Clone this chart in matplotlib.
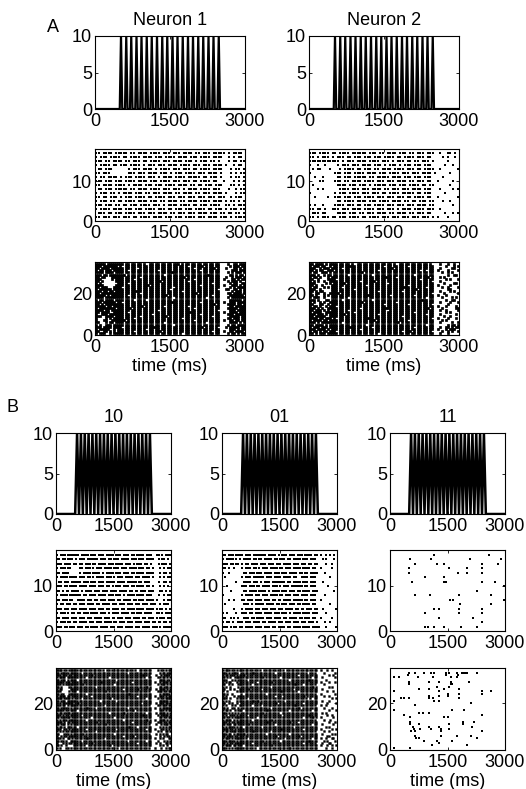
#
# plot.py: stimulus traces and spike rasters for two neurons (A) and three input patterns (B)
#
# import modules -------------------------------------------------------------------------------------------------------
import matplotlib
matplotlib.use('Agg')
from matplotlib import pyplot as plt
# ----------------------------------------------------------------------------------------------------------------------


# data -----------------------------------------------------------------------------------------------------------------
# stimulus: narrow pulses (panel A) and triangle wave (panel B), times in ms
pulse_peak_t = [520, 625, 725, 830, 930, 1035, 1135, 1240, 1345, 1445,
                1550, 1650, 1755, 1860, 1960, 2065, 2165, 2270, 2370, 2475]
pulse_half_width = 25
pulse_height = 10
tri_trough_t = [500, 600, 700, 800, 900, 1000, 1100, 1200, 1300, 1400, 1500,
                1600, 1700, 1800, 1900, 2000, 2100, 2200, 2300, 2400, 2500]
tri_peak_t = [550, 650, 750, 850, 950, 1050, 1150, 1250, 1350, 1450,
              1550, 1650, 1750, 1850, 1950, 2050, 2150, 2250, 2350, 2450]

# rasters, one string per neuron (top row first), '#' = spike in that time bin
MID_BIN = 50     # ms per character, 60 bins
BOT_BIN = 40     # ms per character, 75 bins

a1_mid = [
    "##.####.## ###.##.### #.####.### .###.####. ##.###.### ##.#.####.",
    "#.###.#### .##.####.# ###.###.## ##.####.## #.####.### #..#.#.##.",
    "###.##.### #.##.###.# #.####.### .####.###. #.###.##.# ...#.##.##",
    "#.####.##. ###.####.# .###.###.# ###.####.# ##.###.### #.#..#.##.",
    ".##.###... ...#.###.# ###.#.#### .###.###.# #.####.### #...#.##.#",
    "##.###.... ...###.### .####.###. #.###.#### .###.####. #...#.#.##",
    "#.##.####. #.###.#### .###.#.### #.####.### ##.##.###. #...#.##.#",
    "###.###.## #.####.### #.###.#### .###.###.# #.####.##. .#...#.#.#",
    "##.####.## ##.#.####. ###.###.## ##.####.## .##.###.## #...##.#.#",
    ".##.###.## ###.##.### #.####.### .###.#.### #.####.### ...#..#.##",
    "#.###.##.# .####.###. ##.###.### #.##.####. ##.###.### #.#...#.##",
    "##.##.###. #.###.#### .##.####.# ##.###.### .###.###.# ##..#.###.",
    "#.###.##.# #.####.### #.###.##.# ###.##.### #.####.### #.#.##.#.#",
    "###.###.## .##.###.## ##.###.#.# ###.####.# #.###.#### ..##.#.###",
    "#.####.### #.###.###. ####.###.# #.###.###. ####.##.## #.#.###.##",
    ".###.##.## #.####.### .###.####. ##.###.### .####.###. ##.##.##.#",
    "##.###.### .###.##.## ##.####.## #.###.#### .###.####. ###.#.####",
]

a2_mid = [
    "###.####.# #.####.### ###.###.## .####.###. ##.###.### ..#..##.#.",
    "##.#.###.# .###.##.## #.###.###. ####.##.## ##.###.##. ...#.#..#.",
    "########## ##.#.###.# ###.####.# ##.#.###.# #.##.###.# .....#....",
    "#..#..#... .#.###.### .####.###. #.###.#.## #.###.###. ....#..#..",
    ".#.##...#. ..#.####.# #.###.##.# ###.####.# ##.##.#### ..#......#",
    "#......... ###.###.## ##.####.## #.####.### .###.####. #.....#...",
    "..#..#.... .##.###.## ###.##.### ##.####.## #.###.###. ...#......",
    "....##.... ###.##.### #.####.### .###.####. ##.###.##. .#.....#..",
    ".#........ .####.###. ###.#.#### #.###.###. ####.##.## ......#...",
    "...#.#.... ..####.### .###.####. ##.###.### .####.###. ..#....#.#",
    "#......... #.###.#### .###.###.# #.####.### ##.##.###. ....#.....",
    "..#....#.. ###.###.## #.####.### .###.###.# #.####.##. .#.......#",
    ".......... .##.####.# ###.###.## ##.####.## .##.###.## ...#..#...",
    "#.#..#.... ####.###.# #.###.#### .###.###.# ##.####.## .......#..",
    "##.##.#..# ##.###.### #.####.### .###.#.### #.####.### ..#.......",
    ".###.##... .####.###. ##.###.### #.##.####. ##.###.##. ....#..#.#",
    "##.#.###.# #.###.#### .##.####.# ##.###.### .###.###.# .#...#....",
]

b10_mid = [
    "#.###.#### ##.####.## #.###.#### .###.###.# #.####.### ..##.#.###",
    "##.##.###. #.###.#### ##.###.##. ###.####.# ##.###.### #..#.##.#.",
    "###.####.# #.##.###.# #.####.### .####.###. #.###.##.# ...#.###.#",
    "#.###.##.. ..##.###.# .###.####. ###.###.## ##.###.##. #...#.#.##",
    "##.####... ..#.####.# ###.#.#### .###.###.# #.####.### #...#.##.#",
    "#.####.### #.###.##.# .####.###. #.###.#### .###.####. #...#.#.##",
    ".##.###.## ###.###.## #.###.#### #.####.### ##.##.###. ...#..##.#",
    "###.##.### #.####.### #.###.##.# .###.###.# #.####.##. #...#.#.#.",
    "##.#.##.## ##.#.####. ###.###.## ##.####.## .##.###.## #...##.#.#",
    "#.####.### ###.##.### #.####.### .###.#.### #.####.### ...#..#.##",
    "##.###.##. .####.###. ##.###.### #.##.####. ##.###.### #.#...#.##",
    "#.##.###.# #.###.#### .##.####.# ##.###.### .###.###.# ##..#.###.",
    "###.###.## #.####.### #.###.##.# ###.##.### #.####.### #.#.##.#.#",
    "#.###.#.## .##.###.## ##.###.#.# ###.####.# #.###.#### ..##.#.###",
    "##.####.## #.###.###. ####.###.# #.###.###. ####.##.## #.#.###.##",
    "#.###.##.# #.####.### .###.####. ##.###.### .####.###. ##.##.##.#",
    "###.##.### .###.##.## ##.####.## #.###.#### .###.####. ###.#.####",
]

b01_mid = [
    "##.###.### #.###.#### ###.####.# .###.###.# ##.####.## .#..#.#.#.",
    "#.####.#.# .####.##.# #.####.##. ###.##.### #.###.###. ..#.#...#.",
    "###.##.##. #.##.####. ###.###.## #.####.### .###.##.## ....#..#..",
    "##.#..#... #.###.##.# .###.####. ##.###.### #.####.##. .#.....#..",
    "#..#...... .##.###.## #.####.### .###.####. ##.##.#### ...#......",
    ".#........ #.###.#### ##.###.### #.####.##. .####.###. ......#...",
    ".......#.. .####.###. #.###.#### ###.##.### #.###.###. ..#.......",
    "..#....... ###.###.## .####.###. #.###.#### ##.##.###. .....#....",
    "....#..... .##.####.# ###.#.#### .###.###.# #.####.### ........#.",
    "#......... #.####.### .###.####. ##.###.### .####.###. ...#......",
    "...#..#... ##.###.### #.###.##.# #.####.### ##.##.###. .#........",
    ".#........ .###.#.### ##.####.## .###.###.# #.####.##. ......#...",
    "......#... #.####.### .###.###.# ##.####.## .##.###.## ..#......#",
    "#.#....#.. ###.##.### #.####.### .###.#.### #.####.### ....#.....",
    "##..#.#.#. .###.##.## ##.###.### #.##.####. ##.###.##. .#.....#..",
    "#.##.#..## #.###.#### .##.####.# ##.###.### .###.###.# ...#..#...",
    "###.#.##.# #.####.### #.###.##.# ###.##.### #.####.### #...#....#",
]

a1_bot = [
    "#####.###### ##.##.##. ##.#..##. ##.##.##. ###.#.##. ##.##.##. ##.##. ...#..##.###",
    "###.#######. #..##.##. ##.##.##. ##.##.##. ##.##.#.. ##.###.#. ##.##. ....#.###.##",
    "##.####.#### ##.##.##. .#.##.##. ##.##.##. ##.##.##. #..##.##. ###.#. ..#...##.#.#",
    "#.##.###.### ##.#..##. ##.##.##. #..##.##. ##.##.##. ##.#..##. ##.##. .....###.###",
    "####.####.## ##.##.##. ##.##.##. ##.##.### ##.##.##. ##.##.##. ##.##. ...#.#.###.#",
    "###.##.##### ###.#.##. ##.##.##. ##.#..##. ##.##.##. ##.##.### ##.##. ....##.#.##.",
    "##.##...#### ##.##.##. #..##.##. ##.##.##. ##.###.#. ##.##.##. ##.##. ..#..#.###.#",
    "###.....#.## ##.##.#.. ##.##.##. ##.##.##. ##.##.##. #..##.##. ##.##. .#...##.#.##",
    "##.#......## ##.##.##. ##.##.##. ###.#.##. ##.##.#.. ##.##.##. ##.##. ...#.###.#..",
    "#.#........# ##.#..##. ##.##.##. ##.##.##. ##.##.##. ##.##.##. #..##. ....#.##..##",
    "####......## ##.##.##. ##.###.#. ##.##.##. ##.##.##. ##.#..##. ##.##. .#...###.#.#",
    "##.###...### #..##.##. ##.##.##. ##.##.##. .#.##.##. ##.##.##. ##.##. ....#.#.####",
    "#.######.### ##.##.##. ##.##.##. ##.##.#.. ##.##.##. ##.##.##. ##.#.. ..##..##.#.#",
    "###.##.##.## ##.##.### ##.##.##. ##.##.##. ##.#..##. ##.##.##. ##.##. .....#.###.#",
    "##.######### ##.##.##. #..##.##. ##.##.##. ##.##.##. ###.#.##. ##.##. ...##.####.#",
    "#####.#.#### ##.#..##. ##.##.##. ##.###.#. ##.##.##. ##.##.##. #..##. ....#######.",
    "####.####### ##.##.##. ##.##.##. ##.##.##. .#.##.##. ##.##.#.. ##.##. ...#.#######",
    "#.##.####.## ##.##.#.. ##.#..##. ##.##.##. ##.##.##. ##.##.##. ##.##. ....######.#",
    "###.######.# #..##.##. ##.##.##. ##.##.### ##.##.##. ##.#..##. ##.##. .#..###.####",
    "##.#.####### ##.##.##. ##.##.##. ##.##.##. ##.##.##. ##.##.##. ###.#. ...####.##.#",
    "#####.##.### ##.##.##. ###.#.##. ##.#..##. ##.##.#.. ##.##.##. ##.##. ....##.#####",
    "#.########.# ##.###.#. ##.##.##. ##.##.##. ##.##.##. #..##.##. ##.##. ...#####.###",
    "####.##.#### ##.##.##. ##.##.##. #..##.##. ##.##.##. ##.##.##. ##.#.. ....###.####",
    "##.####..### ##.#..##. ##.##.##. ##.##.##. ##.##.### ##.##.##. ##.##. .#..####.###",
    "#..###.##### ##.##.##. ##.##.#.. ##.##.##. ##.##.##. ##.#..##. ##.##. ...###.#####",
    "###..####.## ##.##.##. #..##.##. ##.###.#. ##.##.##. ##.##.##. #..##. ....#####.##",
    "#....#.#.### ##.##.#.. ##.##.##. ##.##.##. ##.#..##. ##.##.##. ##.##. ...##.###.##",
    "#...##..#### ###.#.##. ##.##.##. ##.##.##. ##.##.##. #..##.##. ##.##. .#..##.##.##",
    "##...#.##.## ##.##.##. ##.##.##. ##.#..##. ##.##.##. ##.##.#.. ##.##. ....####.#.#",
    "#.#..###.### ##.##.##. ##.##.##. ##.##.##. .#.##.##. ##.##.##. ##.##. ...#.##.####",
    "###.####.### #..##.##. ##.##.### ##.##.##. ##.##.##. ##.###.#. ##.#.. ..#.#####.##",
    "#.#####..#.# ##.##.##. ##.#..##. ##.##.##. ##.##.##. ##.##.##. ##.##. ....###.#.##",
    "##..##.#.#.# ##.##.#.. ##.##.##. ###.#.##. ##.##.##. ##.##.##. #..##. .#..##.####.",
    "#.###..#.### ##.##.##. ##.##.##. ##.##.##. ##.#..##. ##.##.##. ##.##. ...#.##.#.##",
]

a2_bot = [
    "##.####.#.## ##.##.##. #..##.##. ##.##.##. ##.#..##. ##.##.##. ##.#.. ..#...#..#..",
    "#.###.##..#. ##.##.### ##.##.##. ##.##.#.. ##.##.##. #..##.##. ##.##. .....#...#.#",
    "###..#.###.# ##.#..##. ##.##.##. ##.##.##. ###.#.##. ##.##.##. ##.##. ..#.....##..",
    "##.#.##..### .#.##.##. ##.##.##. ##.#..##. ##.##.##. ##.##.#.. #..##. .#....#....#",
    "#.##..###.#. ##.##.##. ##.###.#. ##.##.##. ##.##.##. ##.##.##. ##.##. ...#..#.#...",
    "###.#..#.##. ##.##.#.. ##.##.##. #..##.##. ##.##.##. ##.#..##. ##.##. ......#..##.",
    "#.##.#...#.# ##.##.##. ##.##.##. ##.##.### ##.#..##. ##.##.##. ###.#. ..#.#.......",
    "##..#....### #..##.##. ##.##.##. ##.##.##. ##.##.##. ##.##.#.. ##.##. .....#.#...#",
    "#.#.#..#..## ##.##.##. ##.#..##. ###.#.##. ##.##.##. ##.##.##. ##.#.. ..#.........",
    "###.....#.#. ##.###.#. ##.##.##. ##.##.##. .#.##.##. ##.##.##. ##.##. ....#....##.",
    "##.#..#....# ##.##.##. ##.##.#.. ##.##.##. ##.##.##. #..##.##. ##.##. .#.....#....",
    "#.##...#.#.# ##.#..##. ##.##.##. ##.##.##. ##.##.### ##.##.##. #..##. ...#..#....#",
    "###..#.....# ##.##.##. #..##.##. ##.##.##. ##.##.##. ##.###.#. ##.##. ......##....",
    "##.#.##....# ##.##.##. ##.##.##. ##.#..##. ##.##.#.. ##.##.##. ##.##. ..#....#.#..",
    "#..##..#..## ###.#.##. ##.##.##. ##.##.##. ##.##.##. ##.##.##. ##.#.. ....#......#",
    "##.#...#.#.# ##.##.##. ##.##.### ##.##.##. #..##.##. ##.#..##. ##.##. .#...#......",
    "#.###..#...# ##.##.#.. ##.##.##. ##.##.##. ##.##.##. ##.##.##. #..##. ...#....#.#.",
    "###.#...##.# ##.#..##. ##.##.##. #..##.##. ##.##.##. ##.##.### ##.##. .....#..##..",
    "#.#..#.#..## ##.##.##. ##.###.#. ##.##.##. ##.#..##. ##.##.##. ##.##. ..#....#...#",
    "##...##..#.# ##.##.##. ##.##.##. ##.##.#.. ##.##.##. #..##.##. ##.#.. ......#.....",
    "#.##.#..#.## #..##.##. ##.##.##. ##.##.##. ##.##.##. ##.##.##. ##.##. .#...#....#.",
    "###.#.#..### ##.##.##. ##.#..##. ##.##.### ##.##.##. ##.##.##. ###.#. ...#......##",
    "##.###.#.#.# ##.##.#.. ##.##.##. ##.##.##. .#.##.##. ##.##.##. ##.##. ..#..#.....#",
    "#.####..#### ##.##.##. #..##.##. ##.##.##. ##.##.##. ##.#..##. ##.##. .....#.#....",
    "###.###.#.## ##.###.#. ##.##.##. ##.#..##. ##.##.##. ##.##.##. #..##. ..#.......#.",
    "##.#####..## ##.##.##. ##.##.##. ##.##.##. ##.##.#.. ##.##.##. ##.##. ....#..#....",
    "####.##.###. #..##.##. ##.##.### ##.##.##. ##.##.##. ##.##.##. ##.#.. .#....#...#.",
    "#.####.##.## ##.##.##. ##.##.##. ###.#.##. ##.##.##. #..##.##. ##.##. ...#.#......",
    "###.#.###### ##.#..##. ##.##.##. ##.##.##. ##.###.#. ##.##.##. ##.##. ..#.....#..#",
    "##.####.#.## ##.##.##. ##.##.#.. ##.##.##. ##.##.##. ##.##.##. #..##. ......#.##.#",
    "#.###.###.## ##.##.### ##.##.##. #..##.##. ##.##.##. ##.#..##. ##.##. ..#..##.#.##",
    "###.####.#.# ##.##.##. ##.#..##. ##.##.##. ##.##.##. ##.##.##. ##.##. .#...#.###..",
    "#.##.#.##.## #..##.##. ##.##.##. ##.##.##. ##.##.#.. ###.#.##. ##.#.. ...#..#.#..#",
    "##.#.###.### ##.##.##. ##.##.##. ##.#..##. ##.##.##. ##.##.##. ##.##. ..#...#.....",
]

b10_bot = [
    "####.##.#### ##.##.##. ##.##.##. #..##.##. ##.##.##. ##.#..##. ##.##. ...#.##.#.##",
    "##.#####.### ##.#..##. ##.##.##. ##.##.##. ##.##.#.. ##.##.##. ##.##. ....#.##.###",
    "###.###.##.# ##.##.##. ###.#.##. ##.##.##. ##.##.##. ##.##.### ##.#.. ..#..#.####.",
    "#.####.##### ##.##.#.. ##.##.##. ##.#..##. ##.##.##. ##.##.##. #..##. ...##.##.#.#",
    "##.###.#.### #..##.##. ##.##.##. ##.##.##. .#.##.##. ##.##.##. ##.##. ....####.##.",
    "#####.###.## ##.##.##. ##.##.### ##.##.##. ##.##.##. #..##.##. ##.##. .#..#.####.#",
    "###.#.###### ##.###.#. ##.##.##. ##.##.#.. ##.##.##. ##.##.##. ##.##. ...#.###.#.#",
    "##.#....##.# ##.##.##. ##.#..##. ##.##.##. ##.##.##. ##.##.##. ###.#. ....##.###.#",
    "#.##.....### ##.##.##. ##.##.##. ##.##.##. ##.#..##. ##.###.#. ##.##. ..#.####.#.#",
    "###.....#.## #..##.##. ##.##.##. ###.#.##. ##.##.##. ##.##.##. ##.#.. ...###.##.##",
    "##.##...#### ##.##.#.. ##.##.##. ##.##.##. ##.##.### ##.##.##. ##.##. ....#.#####.",
    "#.####.##.## ##.##.##. #..##.##. ##.##.##. ##.##.##. ##.#..##. ##.##. .#..###.#.##",
    "####.####.#. ##.#..##. ##.##.##. ##.###.#. ##.##.##. ##.##.##. #..##. ...#.##.####",
    "##.###.##### ##.##.##. ##.##.#.. ##.##.##. .#.##.##. ##.##.##. ##.##. ....######.#",
    "#.#.#######. ###.#.##. ##.##.##. ##.##.##. ##.##.##. ##.##.#.. ##.##. ..#.###.##.#",
    "###.##.#.### ##.##.##. ##.##.##. #..##.##. ##.##.##. ##.##.##. ##.#.. ...##.###.##",
    "##.#####.#.# ##.##.### ##.#..##. ##.##.##. ##.##.#.. ##.##.##. ##.##. .#..#.######",
    "#####.##.### #..##.##. ##.##.##. ##.##.##. ##.##.##. ###.#.##. ##.##. ....###.#.##",
    "#.##.####.## ##.##.##. ##.##.##. ##.#..##. ##.###.#. ##.##.##. #..##. ..#.####.#.#",
    "###.#.##.### ##.#..##. ##.##.##. ##.##.##. ##.##.##. ##.##.### ##.##. ...#.#####.#",
    "##.######.## ##.##.##. #..##.##. ##.##.#.. ##.##.##. ##.##.##. ##.##. ....##.##.##",
    "#.#.###.#### ##.##.#.. ##.##.##. ##.##.##. ##.#..##. ##.##.##. ###.#. .#..####.#.#",
    "####.#.##.## ##.##.##. ##.###.#. ##.##.##. ##.##.##. #..##.##. ##.##. ...###.##.##",
    "##.###.#.#.# ##.##.##. ##.##.##. ###.#.##. ##.##.##. ##.##.##. ##.#.. ..#..#.###.#",
    "#.##.#.###.# #..##.##. ##.##.##. ##.##.##. ##.##.### ##.#..##. ##.##. ....#.#.#.##",
    "###..##.#.## ##.##.#.. ##.##.##. ##.##.##. .#.##.##. ##.##.##. #..##. .#...##.#.#.",
    "#.#.#.##.### ##.##.##. ##.#..##. ##.##.##. ##.##.##. ##.##.##. ##.##. ...#.#..##.#",
    "##...###.#.# ##.###.#. ##.##.##. ##.##.#.. ##.##.##. ##.##.##. ##.#.. ..#.#.#.##..",
    "#..#.##.#### ##.##.##. ##.##.##. ##.##.##. ##.#..##. ###.#.##. ##.##. ....#..#.##.",
    "###.#..##.#. ##.##.### ##.##.##. #..##.##. ##.##.##. ##.##.##. ##.##. .#..#.#...##",
    "##.##.#..### ##.#..##. ##.##.##. ##.##.##. ##.##.#.. ##.##.##. #..##. ...#...#.#.#",
    "#...#.#.##.# ##.##.##. ###.#.##. ##.##.##. ##.##.##. ##.#..##. ##.##. ..#.#...##.#",
    "##.#..#....# ##.##.#.. ##.##.##. ##.###.#. ##.##.##. ##.##.##. ##.##. ....#.#..#..",
    "#.#...##.#.# ##.##.##. ##.##.##. ##.##.##. #..##.##. ##.##.##. ##.#.. .#...#..#.##",
]

b01_bot = [
    "#.###.##.#.# ##.##.##. ##.#..##. ##.##.##. #..##.##. ##.##.##. ##.##. .#...#..#...",
    "###.#.####.. ##.##.### ##.##.##. ##.#..##. ##.##.##. ##.##.#.. ##.#.. ...#......#.",
    "#.##.###.#.# ###.#.##. ##.##.##. ##.##.##. ##.##.##. #..##.##. ##.##. ......#..#..",
    "##.#.#..#### ##.##.##. ##.###.#. ##.##.#.. ##.##.##. ##.##.##. #..##. ..#.......#.",
    "###...#.#.## ##.#..##. ##.##.##. ##.##.##. ##.#..##. ##.##.### ##.##. ....#.......",
    "#.#.##...#.# ##.##.##. #..##.##. ###.#.##. ##.##.##. ##.##.##. ##.##. .#....#...#.",
    "##..#.#...## ##.##.#.. ##.##.##. ##.##.##. ##.##.### ##.#..##. ##.#.. ...#........",
    "#.#..#....#. ##.##.##. ##.##.##. #..##.##. ##.##.##. ##.##.##. ###.#. ......#.#...",
    "##...#.#...# ##.###.#. ##.#..##. ##.##.##. ##.##.#.. ##.##.##. ##.##. ..#.........",
    "#..#.....#.# ##.##.##. ##.##.##. ##.##.### ##.##.##. #..##.##. ##.##. .....#...#..",
    "##.#..#..... #..##.##. ##.##.#.. ##.##.##. ##.##.##. ##.##.##. ##.#.. .#........#.",
    "#.#....#..## ##.##.##. ##.##.##. ##.#..##. .#.##.##. ##.###.#. ##.##. ...#..#.....",
    "###..#...#.# ##.#..##. ##.##.##. ##.##.##. ##.##.##. ##.##.#.. #..##. ........#..#",
    "#.#.#....#.# ##.##.### ###.#.##. ##.##.##. #..##.##. ##.##.##. ##.##. ..#...#.....",
    "##..#.#..#.. ##.##.##. ##.##.##. ##.###.#. ##.##.##. ##.#..##. ##.##. .....#.....#",
    "#.#...#.#..# ##.##.#.. ##.#..##. ##.##.##. ##.##.### ##.##.##. ##.#.. .#..#.......",
    "##.#..##..#. ##.##.##. ##.##.##. #..##.##. ##.##.##. ###.#.##. ##.##. ...#....#...",
    "#.##.#..#.## #..##.##. ##.##.### ##.##.##. ##.#..##. ##.##.##. #..##. ......#....#",
    "###.#.#.#.#. ##.##.##. ##.###.#. ##.##.#.. ##.##.##. ##.##.##. ##.##. ..#.#.......",
    "#.#..###.#.# ##.#..##. ##.##.##. ##.##.##. .#.##.##. ##.##.### ##.##. .....#..#...",
    "##.##.#.#### ##.##.##. #..##.##. ##.##.##. ##.##.##. ##.#..##. ###.#. .#.......#..",
    "#.####.#.#.# ##.##.#.. ##.##.##. ###.#.##. ##.##.##. ##.##.##. ##.#.. ...#...#....",
    "###.#.##.### ##.##.##. ##.##.### ##.##.##. ##.###.#. #..##.##. ##.##. ......#...#.",
    "##.###.##.## ##.###.#. ##.##.##. ##.#..##. ##.##.##. ##.##.##. #..##. ..#......#..",
    "#.#.####.#.# #..##.##. ##.#..##. ##.##.##. ##.##.#.. ##.##.##. ##.##. ....#.#.....",
    "####.##.#.## ##.##.##. ##.##.##. ##.##.### ##.##.##. ##.#..##. ##.##. .#......#..#",
    "#.##.####.## ##.##.### ##.##.##. #..##.##. ##.##.##. ##.##.##. ##.#.. ...#..#.....",
    "###.##.#.### ###.#.##. ##.##.#.. ##.##.##. ##.#..##. ##.##.##. ##.##. ..#.....#.#.",
    "##.####.##.# ##.##.##. ##.##.##. ##.###.#. ##.##.##. ###.#.##. ##.##. .....##.....",
    "#.###.#.#### ##.#..##. ##.##.##. ##.##.##. #..##.##. ##.##.##. #..##. .#..#...##..",
    "###.####.#.# ##.##.##. ##.###.#. ##.##.#.. ##.##.##. ##.##.### ##.##. ...#.#....#.",
    "##.#.##.#### ##.##.#.. ##.##.##. ##.##.##. ##.##.##. ##.#..##. ##.#.. ..#...##....",
    "#.####.##.## #..##.##. ##.##.##. ###.#.##. ##.##.##. ##.##.##. ##.##. .#...#..#..#",
    "###.#.#.#### ##.##.##. #..##.##. ##.##.##. ##.###.#. ##.##.##. ##.##. ....#...#...",
]

# pattern 11: sparse spikes, read one by one (time in ms, neuron index)
b11_mid_t = [519, 1150, 2595, 2898, 649, 1081, 1228, 1401, 2076, 2396, 2829,
             502, 502, 1540, 2007, 2007, 1773, 2396, 2396, 908, 1401,
             580, 1401, 1471, 2396, 2742, 2266, 2967, 649, 1038, 1799, 2638,
             1574, 1644, 1834, 2967, 2638, 1150, 1280, 1799, 2396, 917, 1799, 2396,
             1280, 2163, 2405, 917, 995, 1150, 1410, 1842, 2266]
b11_mid_n = [16, 17, 17, 16, 15, 16, 15, 15, 16, 15, 15,
             14, 13, 14, 14, 13, 13, 14, 13, 12, 12,
             11, 11, 11, 11, 11, 9, 10, 8, 8, 8, 8,
             7, 7, 6, 7, 6, 5, 5, 5, 5, 4, 4, 4,
             3, 3, 2, 1, 1, 1, 1, 1, 1]

b11_bot_t = [486, 650, 893, 1066, 1153, 1457, 1543, 1743, 1890, 1933, 1977, 2020, 2263,
             460, 1457, 1786,
             113, 243, 720, 1110, 1604, 1760,
             503, 1023, 1266, 1587, 2063,
             503, 1587, 1630,
             1214, 1543,
             763, 1023, 1396, 1803,
             113, 1266, 2393, 2627,
             1517, 1803, 2393,
             1023, 1266, 1517,
             286, 373, 503, 1023, 1127, 1803,
             113, 1153, 1266,
             2107,
             650,
             113, 1630, 1933,
             763, 867, 1023,
             355, 2410,
             520, 1413, 1500,
             520, 1907, 2193,
             520, 763, 1543, 1907,
             590, 1006, 1283, 2150,
             633, 780, 1327, 1543, 1058,
             546, 650, 2410, 1327,
             659, 1327, 1760, 2107,
             676, 763, 2280,
             893, 1214, 1630,
             1266,
             1092, 2020,
             113, 520]
b11_bot_n = [33] * 13 + [32] * 3 + [31] * 6 + [29] * 5 + [28] * 3 + [27] * 2 + [26] * 4 + \
            [25] * 4 + [24] * 3 + [23] * 3 + [22] * 6 + [21] * 3 + [20] + [19] + [17] * 3 + \
            [16] * 3 + [15] * 2 + [14] * 3 + [12] * 3 + [11] * 4 + [10] * 4 + [9] * 5 + \
            [8] * 4 + [6] * 4 + [5] * 3 + [4] * 3 + [3] + [2] * 2 + [1] * 2

a_titles = ['Neuron 1', 'Neuron 2']
b_titles = ['10', '01', '11']
x_ticks = [0, 1500, 3000]
# ----------------------------------------------------------------------------------------------------------------------


# helpers --------------------------------------------------------------------------------------------------------------
FIG_W, FIG_H = 526, 789


def box(x, y, w, h):
    # pixel box (top-left origin) -> figure fraction
    return [x / FIG_W, 1 - (y + h) / FIG_H, w / FIG_W, h / FIG_H]


def raster_points(rows, bin_ms):
    ts, ns = [], []
    for k, row in enumerate(rows):
        for i, c in enumerate(row.replace(' ', '')):
            if c == '#':
                ts.append((i + 0.5) * bin_ms)
                ns.append(len(rows) - k)
    return ts, ns


def pulse_trace():
    t, v = [0], [0]
    for p in pulse_peak_t:
        t += [p - pulse_half_width, p, p + pulse_half_width]
        v += [0, pulse_height, 0]
    return t + [3000], v + [0]


def triangle_trace():
    pts = [(x, 0) for x in tri_trough_t] + [(x, pulse_height) for x in tri_peak_t]
    pts.sort()
    return [0] + [p[0] for p in pts] + [3000], [0] + [p[1] for p in pts] + [0]


def spikes(ax, t, n, size, snap=True):
    sc = ax.scatter(t, n, s=size, marker='s', c='k', linewidths=0)
    sc.set_snap(snap)


def style(ax, yticks, ymax):
    ax.set_xlim(0, 3000)
    ax.set_ylim(0, ymax)
    ax.set_xticks(x_ticks)
    ax.set_yticks(yticks)
    ax.tick_params(direction='in', length=2.5, width=0.6, top=True, right=True, labelsize=13, pad=2)
    ax.tick_params(axis='x', pad=3)
    for sp in ax.spines.values():
        sp.set_linewidth(0.8)
# ----------------------------------------------------------------------------------------------------------------------


# plot -----------------------------------------------------------------------------------------------------------------
def main():
    plt.rcParams['font.family'] = ['Liberation Sans', 'DejaVu Sans']
    fig = plt.figure(figsize=(5.26, 7.89), dpi=100)

    # panel A
    a_x = [95, 309]
    for col, (title, mid, bot) in enumerate(zip(a_titles, [a1_mid, a2_mid], [a1_bot, a2_bot])):
        ax = fig.add_axes(box(a_x[col], 36, 150, 73))
        t, v = pulse_trace()
        ax.plot(t, v, color='k', lw=1.6)
        style(ax, [0, 5, 10], 10)
        ax.set_title(title, fontsize=13, pad=8)

        ax = fig.add_axes(box(a_x[col], 149, 150, 72))
        spikes(ax, *raster_points(mid, MID_BIN), 3.8)
        style(ax, [0, 10], 18)

        ax = fig.add_axes(box(a_x[col], 262, 150, 73))
        spikes(ax, *raster_points(bot, BOT_BIN), 3.9, snap=False)
        style(ax, [0, 20], 35)
        ax.set_xlabel('time (ms)', fontsize=13, labelpad=1)

    # panel B
    b_x = [56, 222, 390]
    mids = [raster_points(b10_mid, MID_BIN), raster_points(b01_mid, MID_BIN), (b11_mid_t, b11_mid_n)]
    bots = [raster_points(b10_bot, BOT_BIN), raster_points(b01_bot, BOT_BIN), (b11_bot_t, b11_bot_n)]
    for col, title in enumerate(b_titles):
        ax = fig.add_axes(box(b_x[col], 433, 115, 81))
        t, v = triangle_trace()
        ax.plot(t, v, color='k', lw=1.8)
        style(ax, [0, 5, 10], 10)
        ax.set_title(title, fontsize=13, pad=8)

        ax = fig.add_axes(box(b_x[col], 550, 115, 81))
        spikes(ax, *mids[col], 3.8 if col < 2 else 3.4)
        style(ax, [0, 10], 18)

        ax = fig.add_axes(box(b_x[col], 668, 115, 82))
        if col < 2:
            spikes(ax, *bots[col], 2.9, snap=False)
        else:
            spikes(ax, *bots[col], 3.4)
        style(ax, [0, 20], 35)
        ax.set_xlabel('time (ms)', fontsize=13, labelpad=1)

    fig.text(53 / FIG_W, 1 - 28 / FIG_H, 'A', fontsize=13, ha='center', va='center')
    fig.text(12 / FIG_W, 1 - 408 / FIG_H, 'B', fontsize=13, ha='center', va='center')

    fig.savefig('out.png', dpi=100)
# ----------------------------------------------------------------------------------------------------------------------


# start the program ----------------------------------------------------------------------------------------------------
if __name__ == '__main__':
    main()
# ----------------------------------------------------------------------------------------------------------------------
